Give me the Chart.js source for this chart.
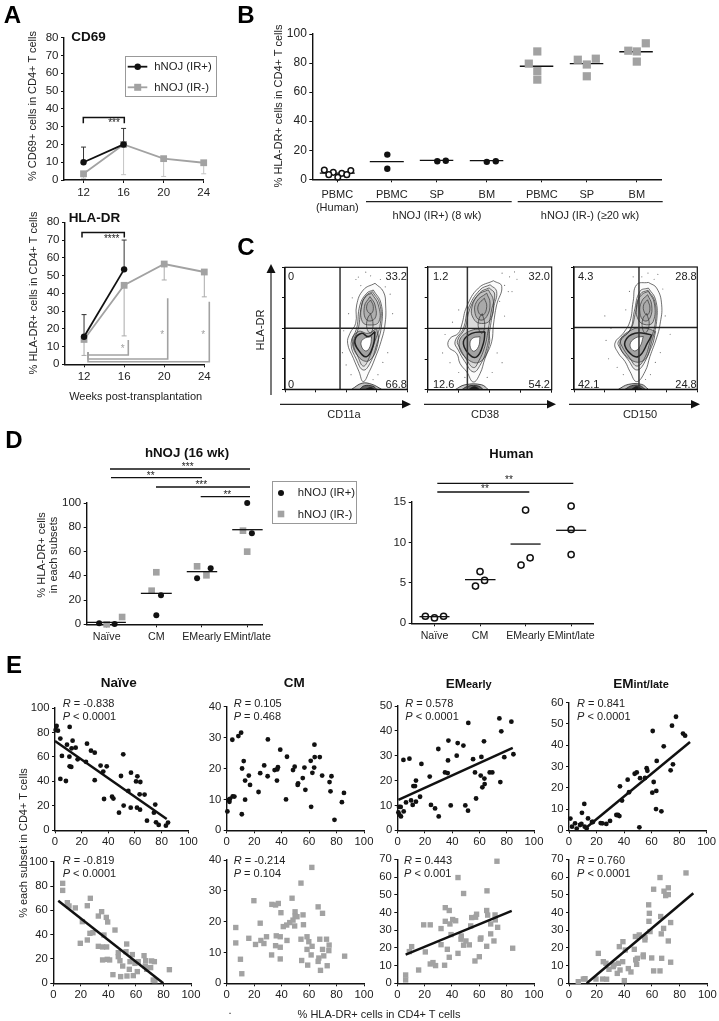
<!DOCTYPE html>
<html lang="en">
<head>
<meta charset="UTF-8">
<title>HLA-DR expression on CD4+ T cells</title>
<script src="https://cdn.jsdelivr.net/npm/chart.js"></script>
<style>
    html, body { margin: 0; padding: 0; background: #fff; }
    #page { position: relative; width: 719px; height: 1021px; overflow: hidden; font-family: "Liberation Sans", Arial, sans-serif; color: #222; filter: blur(0.3px); }
    #page canvas { position: absolute; }
    #page svg { position: absolute; left: 0; top: 0; pointer-events: none; }
    .t { position: absolute; white-space: nowrap; line-height: 1; }
    .box { position: absolute; box-sizing: border-box; border: 1px solid #999; background: #fff; }
</style>
</head>
<body>
<div id="page"></div>
<script>
// ---- panel A
const aWeeks = [12, 16, 20, 24];
const aTicks = [0, 10, 20, 30, 40, 50, 60, 70, 80];
const cd69Plus = [10, 20];
const cd69Minus = [3.5, 20, 12, 9.7];
const cd69PlusUpper = [18.5, 29];
const cd69MinusLower = [1, 3, 2, 3.5];
const hlaPlus = [15.5, 53.5];
const hlaMinus = [14, 44.5, 56.5, 52];
const hlaPlusUpper = [28, 70];
const hlaMinusLower = [5, 16, 47.5, 38];

// ---- panel B
const bTicks = [0, 20, 40, 60, 80, 100];
const bSites = [0, 1.09, 1.99, 2.99, 4.09, 4.99, 5.99];
const bSiteLabels = [['PBMC', '(Human)'], 'PBMC', 'SP', 'BM', 'PBMC', 'SP', 'BM'];
const bHuman = [[-0.26, 6.4], [-0.08, 4.8], [0.09, 4.1], [0.27, 6], [-0.17, 3.2], [0.19, 3.2], [0.01, 1.4]];
const bIrPlus = [[1, 17], [1, 7.3], [2, 12.4], [2.17, 12.8], [2.99, 12], [3.17, 12.4]];
const bIrMinus = [[4, 88], [3.83, 79.6], [4, 74.5], [4, 68.6], [4.81, 82.3], [5.17, 83], [4.99, 79], [4.99, 70.9], [5.82, 88.5], [5.99, 88], [6.17, 93.6], [5.99, 81]];
const bMedians = [4.3, 12.2, 13, 12.8, 77.8, 79.6, 87.8];
const bMedianFrom = [-0.35, 0.65, 1.65, 2.65, 3.65, 4.65, 5.64];
const bMedianTo = [0.35, 1.33, 2.32, 3.32, 4.32, 5.32, 6.31];

// ---- panel C, contours
const cTicks = [0, 25, 50, 75, 100];
const c1Gate = [45, 50];
const c2Gate = [32, 50];
const c3Gate = [52.7, 50.5];
const c1Outer = [[73.6, 86.9], [80.4, 80.1], [82.3, 69.1], [81.7, 52.7], [78.5, 39.1], [73.6, 25.4], [68.9, 14.5], [64, 6.3], [60.5, 14.5], [55.9, 25.4], [51.2, 37.7], [53.1, 45.9], [57.8, 54.1], [58.6, 69.1], [64, 81.4]];
const c1Mid = [[72.2, 81.4], [78.5, 70.5], [79, 52.7], [74.9, 36.3], [69.5, 21.3], [64, 15.8], [58.6, 24], [54, 37.7], [58.6, 50], [61.3, 69.1], [66.8, 78.7]];
const c1Ring = [[71.5, 80], [77.5, 70], [78, 54], [73, 38], [68, 24], [64, 19], [60, 26], [56, 38], [60, 50], [62.5, 68], [66.5, 77]];
const c1Up1 = [[70.8, 78.7], [76.3, 69.1], [76.8, 55.5], [69.5, 52.7], [63.2, 55.5], [62.7, 69.1], [66, 76]];
const c1Up2 = [[69.5, 76], [73.6, 69.1], [73.6, 58.2], [66.8, 56.8], [64.9, 67.8]];
const c1Up3 = [[70, 73.2], [72.2, 67.8], [70.8, 62.3], [67.6, 63.7], [67, 69.1]];
const c1Neck = [[70, 62], [72, 53], [70, 46], [67, 50], [67.5, 58]];
const c1Low1 = [[73.6, 47.3], [72.2, 36.3], [66.8, 26.8], [60, 32.2], [57.2, 40.4], [62.7, 45.9], [68.1, 43.2]];
const c1Low2 = [[74.9, 50], [76.3, 39.1], [69.5, 24], [61.3, 25.4], [55, 39.1], [60, 47.3], [68.1, 45.9]];
const c1Hole = [[70.8, 43.2], [69.5, 35], [66, 31.4], [62.2, 36.3], [64, 41.2]];
const c1Base = [[[54.5, 0], [63, 5], [71, 4.1], [79, 0]], [[61, 0], [65, 3], [72, 2.5], [75, 0]], [[66, 0], [70, 1.5], [73, 0]]];
const c1Dots = [[58, 90], [62, 85], [70, 93], [78, 90], [82, 84], [86, 78], [55, 75], [52, 62], [88, 62], [85, 50], [48, 48], [47, 30], [84, 30], [80, 22], [50, 20], [54, 12], [76, 12], [72, 8], [60, 92], [66, 96]];
const c2Outer = [[53, 88.8], [59.7, 84.2], [55.6, 69.1], [53, 52.7], [51.6, 39.1], [46.2, 25.4], [42.2, 13.1], [36.8, 6.3], [31.5, 14.5], [26.1, 21.3], [23.4, 29.5], [16.7, 35], [18, 41.8], [24.7, 45.9], [27.4, 52.7], [31.5, 67.8], [40.9, 82.8]];
const c2Mid = [[50.3, 85.5], [55.6, 80.1], [53, 66.4], [50.3, 50], [47.6, 33.6], [42.2, 19.9], [36.8, 14.5], [30.1, 22.7], [24.7, 32.2], [22, 39.1], [28.8, 50], [32.8, 66.4], [42.2, 81.4]];
const c2Ring = [[49.5, 83], [54, 78], [51.5, 65], [49, 50], [46, 35], [41, 23], [37, 18], [31, 25], [26, 34], [24, 40], [30, 50], [34, 66], [42, 79]];
const c2Up1 = [[48.9, 81.4], [53, 72.2], [50.3, 56.8], [42.2, 54.1], [36.8, 58.2], [35.5, 66.4], [40.9, 77.3]];
const c2Up2 = [[47.6, 78.7], [50.3, 70.5], [47.6, 59.6], [42.2, 56.8], [38.2, 62.3], [39.5, 71.9]];
const c2Up3 = [[45.7, 74.6], [47.6, 67.8], [44.9, 60.9], [41.4, 62.3], [40.9, 69.1]];
const c2Neck = [[44, 62], [46, 53], [44, 46], [41, 50], [41.5, 58]];
const c2Low1 = [[46.2, 47.3], [44.9, 37.7], [39.5, 26.8], [32.8, 29.5], [28.8, 39.1], [35.5, 45.9]];
const c2Low2 = [[49, 50], [49.5, 36.3], [42.2, 22.7], [31.5, 25.4], [25.3, 37.7], [32.8, 47.3]];
const c2Hole = [[42.2, 43.2], [40.9, 35], [36.8, 31.4], [34.1, 36.3], [36, 41.8]];
const c2Base = [[[22, 0], [30, 4], [43.5, 4], [49, 0]], [[27.4, 0], [32.8, 3], [40.9, 3], [44.9, 0]], [[32.8, 0], [37.6, 2.5], [42.2, 0]]];
const c2Dots = [[60, 95], [66, 92], [72, 90], [62, 85], [68, 80], [58, 72], [62, 60], [25, 65], [20, 55], [14, 45], [12, 30], [18, 22], [25, 14], [56, 30], [60, 22], [52, 14], [48, 10], [30, 10], [70, 96], [65, 80]];
const c3Outer = [[60.3, 87.4], [67, 82.8], [71.1, 69.1], [69.7, 52.7], [67, 42], [61.6, 26.8], [57.6, 14.5], [50.8, 6.3], [45.4, 14.5], [41.4, 22.7], [36, 29.5], [33.2, 37.7], [40, 45.9], [45.4, 55.5], [48, 71.9], [50.8, 85.5]];
const c3Mid = [[60.3, 82.8], [66.2, 73.2], [67, 55.5], [63, 39.1], [57.6, 22.7], [50.8, 15.8], [44, 24], [37.3, 33.6], [36, 39.1], [45.4, 48.6], [48.9, 63.7], [53.5, 80.1]];
const c3Ring = [[60, 81], [65.5, 72], [66, 55], [62, 40], [57, 25], [51, 19], [45, 26], [39, 35], [38, 40], [46, 49], [50, 63], [54, 78]];
const c3Up1 = [[60.3, 80.1], [65.1, 70.5], [64.3, 55.5], [58.9, 52.7], [52.2, 56.8], [50.8, 69.1], [54.9, 77.3]];
const c3Up2 = [[59.7, 77.3], [63, 69.1], [61.6, 58.2], [57, 56], [53.5, 62.3], [54.9, 71.9]];
const c3Up3 = [[59.7, 73.2], [61.6, 66.4], [59.7, 60.9], [57, 63.1], [56.5, 69.1]];
const c3Neck = [[59, 62], [61, 53], [58, 46], [55.5, 50], [56, 58]];
const c3Low1 = [[63, 44.5], [60.3, 39.1], [52.2, 26.8], [44, 30.9], [41.4, 39.1], [49.5, 45.9]];
const c3Low2 = [[66.2, 47.3], [63, 35], [54.9, 22.7], [42.7, 26.8], [37.3, 39.1], [46.8, 48.6], [57.6, 50]];
const c3Hole = [[56.2, 43.2], [53.5, 35], [48.9, 31.4], [45.4, 36.3], [49.5, 41.8]];
const c3Base = [[[36, 0], [44, 4], [54.9, 4], [60.3, 0]], [[41.4, 0], [46.8, 3], [53.5, 3], [57.6, 0]], [[46.8, 0], [50.8, 2.2], [55.4, 0]]];
const c3Dots = [[55, 92], [60, 95], [65, 90], [72, 82], [74, 60], [78, 45], [25, 60], [30, 50], [26, 40], [28, 25], [35, 18], [40, 12], [66, 22], [70, 30], [62, 12], [58, 8], [45, 80], [42, 65], [48, 92], [68, 94]];

// ---- panel D
const dSubsets = ['Naïve', 'CM', 'EMearly', 'EMint/late'];
const dMouseTicks = [0, 20, 40, 60, 80, 100];
const dMouseSites = [0, 1.06, 2.03, 3];
const dMousePlus = [[-0.16, 0.8], [0.17, 0.3], [1.06, 7.4], [1.16, 23.9], [1.93, 37.9], [2.22, 46.2], [3, 100], [3.1, 75]];
const dMouseMinus = [[0, 0], [0.33, 6], [1.06, 42.9], [0.96, 27.7], [1.93, 47.8], [2.13, 40.4], [2.91, 77.2], [3, 59.9]];
const dMouseMedians = [1.6, 25.5, 43.4, 78];
const dMouseFrom = [-0.43, 0.73, 1.71, 2.68];
const dMouseTo = [0.41, 1.39, 2.36, 3.33];
const dHumanTicks = [0, 5, 10, 15];
const dHumanSites = [0, 1, 2, 3];
const dHuman = [[-0.2, 0.87], [0, 0.66], [0.2, 0.87], [1, 6.4], [1.1, 5.3], [0.9, 4.6], [2, 14], [2.1, 8.1], [1.9, 7.2], [3, 14.5], [3, 11.6], [3, 8.5]];
const dHumanMedians = [0.82, 5.4, 9.8, 11.5];
const dHumanFrom = [-0.33, 0.67, 1.67, 2.67];
const dHumanTo = [0.33, 1.34, 2.33, 3.33];

// ---- panel E, x is % HLA-DR+ and y is % of the subset
const eXTicks = [0, 20, 40, 60, 80, 100];
const eNaiveTicks = [0, 20, 40, 60, 80, 100];
const eCmTicks = [0, 10, 20, 30, 40];
const eEarlyTicks = [0, 10, 20, 30, 40, 50];
const eLateTicks = [0, 10, 20, 30, 40, 50, 60];
const eCmMinusTicks = [0, 10, 20, 30, 40];
const e70Ticks = [0, 10, 20, 30, 40, 50, 60, 70];
const eNaivePlus = [[1.2, 85.3], [0.5, 82], [2.2, 81.5], [4, 75], [5.2, 60.8], [4, 42], [8.2, 40.3], [11, 84.5], [10.8, 60.2], [11, 52.3], [12.2, 51.8], [13.2, 73.3], [12.5, 67], [15.5, 67.6], [9, 70], [17, 58], [24, 70.8], [23.2, 56], [27, 65.1], [29.8, 63.5], [29.8, 41], [34.2, 52.9], [38.8, 52.3], [36.2, 48], [36.8, 25.6], [42.8, 27.5], [43.8, 25.9], [48, 14.4], [49.5, 44.4], [51.2, 62.1], [51.5, 20.2], [55, 32.2], [56.8, 18.5], [57, 47.1], [60.8, 40], [61.8, 44.1], [64, 39.5], [61.5, 18.5], [63.8, 16.9], [63.5, 29.4], [67.2, 29.2], [69, 7.9], [74.2, 14.4], [75.2, 21], [75.8, 6.5], [77.8, 4.4], [83.2, 3.8], [84.8, 6.3]];
const eNaivePlusFit = [[0, 73], [83.8, 9.3]];
const eCmPlus = [[0.5, 6.1], [1.2, 9.8], [2, 9.2], [2.4, 10.2], [4.1, 29.3], [4.4, 11], [5.6, 10.9], [8.5, 30.5], [10.5, 31.6], [11, 5.2], [11.2, 20], [12.4, 22.4], [13.4, 16.1], [13.4, 9.9], [16.1, 17.7], [17, 14.7], [23.2, 12.4], [24.4, 18.5], [27.3, 21], [29.8, 17.5], [30, 29.4], [34.9, 19.5], [36.8, 19.7], [36.6, 16.1], [37.3, 20.4], [39, 26.1], [43.2, 10], [43.9, 23.8], [48.3, 19.5], [49.5, 20.6], [51.7, 14.7], [52, 15.2], [55.4, 16.9], [57.3, 13.1], [56.6, 20.3], [61.2, 22.5], [61.5, 7.6], [62.4, 18.6], [63.7, 20.3], [63.9, 27.7], [64.1, 23.7], [67.8, 23.7], [69.5, 17.7], [74.9, 15.6], [75.6, 12.6], [76.3, 17.5], [78.5, 3.4], [83.9, 9.1], [85.4, 12.1]];
const eEarlyPlus = [[0.5, 7.2], [1.2, 6.3], [2.4, 5.6], [1, 9.4], [2.2, 9.4], [4.4, 7.6], [4.2, 28.3], [6.1, 11.2], [8.6, 28.8], [9.8, 12], [11, 10.2], [11.5, 17.8], [12.7, 17.8], [13.4, 20], [13.4, 11.5], [16.4, 13.5], [17.4, 26.7], [23.5, 21.6], [24.4, 10.2], [27.4, 8.8], [30.1, 5.6], [29.8, 32.7], [34.7, 23.3], [36.7, 23], [36.9, 28.1], [38.9, 10], [37.2, 36.1], [43.3, 30], [44, 35.1], [48.2, 34.1], [49.6, 10], [51.6, 7.9], [51.8, 43.2], [55.3, 28.6], [56.7, 23.3], [57.5, 12.8], [61.4, 29.5], [60.9, 22], [62.1, 17.3], [63.8, 18.6], [63.6, 20.8], [63.3, 35.8], [67.5, 23.3], [69.4, 23.3], [75.3, 19.4], [74.6, 45], [76, 39.8], [78.2, 29.4], [83.4, 43.7], [84.9, 30.6]];
const eEarlyPlusFit = [[0.5, 12.2], [84.4, 33.2]];
const eLatePlus = [[1, 5.5], [2.2, 1.7], [4.4, 3.3], [5.6, 0.8], [8, 2.5], [9, 3], [9.4, 8.2], [11.1, 12.4], [11.4, 1.7], [12.8, 0.9], [13.8, 5.6], [16.7, 3.9], [17.4, 3.9], [23, 3.4], [24.2, 3.3], [27.1, 3], [29.8, 4.4], [34.4, 7.2], [35.6, 7.2], [36.6, 6.7], [37, 20.7], [38.5, 14], [42.6, 23.8], [43.6, 17.9], [47.7, 26.6], [49.2, 27.2], [51.6, 24.5], [55.2, 24.6], [56.4, 29.2], [56.9, 28], [51.1, 1.4], [60.8, 46.7], [61.5, 22.7], [60.5, 17.7], [63.4, 18.5], [63.2, 10], [63.7, 32.6], [67.1, 8.9], [68.8, 39.5], [73.8, 28.2], [74.8, 49.2], [75.5, 31], [77.7, 53.4], [82.8, 45.5], [84.3, 44.5]];
const eLatePlusFit = [[12, 1], [87.9, 41.5]];
const eNaiveMinus = [[6.8, 82.2], [6.8, 76.4], [10.2, 66.3], [11.4, 63.6], [16, 62], [19.6, 32.9], [21.1, 50.7], [24.7, 35.6], [24.7, 63.8], [26.9, 69.9], [26.6, 41.1], [28.8, 41.6], [32.7, 55.3], [35.1, 58.9], [32.7, 30.4], [35.8, 29.9], [38.7, 29.9], [36.8, 39.7], [38.5, 54.2], [39.5, 50.4], [35.8, 19.2], [39.2, 19.7], [40.9, 19.2], [44.8, 43.8], [43.3, 7.1], [47.2, 25.2], [47.2, 21.9], [48.4, 18.6], [50.4, 14.2], [48.9, 5.5], [53.5, 6], [53.3, 32.3], [52.8, 26], [57.4, 23.6], [55.7, 17.8], [55.2, 11.5], [59.3, 16.4], [58.1, 6.3], [61, 9.6], [61.7, 17.8], [65.9, 22.7], [67.1, 18.6], [66.8, 14.2], [67.8, 11.5], [71.4, 18.4], [73.4, 17.8], [70.7, 12.9], [72.6, 2.7], [73.8, 2.2], [84.3, 11.2]];
const eNaiveMinusFit = [[3.6, 67.9], [79.9, 0]];
const eCmMinus = [[6.6, 18.1], [6.6, 13.1], [10, 7.8], [11, 3.1], [16.1, 14.6], [19.8, 26.8], [21, 12.6], [24.4, 19.5], [24.9, 13.9], [27.1, 12.9], [29, 15.1], [32.9, 25.6], [35.6, 25.4], [37.6, 25.9], [36.1, 15.4], [39, 15.1], [32.7, 9.2], [35.6, 12.2], [39, 11.7], [39.5, 22.9], [39, 7.9], [41.2, 18.4], [43.7, 18.9], [43.9, 13.9], [45.9, 19.7], [47.6, 27.6], [48.3, 20.5], [49.8, 23.2], [49.8, 21.8], [49.5, 18.6], [51.2, 21.6], [54.1, 14.3], [55.6, 22.2], [55.9, 19], [54.6, 7.4], [59, 5.9], [58.5, 15.1], [59.8, 13.5], [58.5, 11], [61.5, 9.2], [62.2, 12], [62, 37.6], [54.1, 32.5], [66.6, 24.8], [69.8, 22.7], [67.1, 8.2], [67.8, 14.3], [66.6, 7.1], [68.3, 4.2], [69.8, 11], [70.7, 8.9], [72.7, 14.3], [73.2, 5.7], [74.6, 12.4], [74.4, 10.6], [85.9, 8.8]];
const eEarlyMinus = [[6.1, 4.7], [6.1, 1.9], [8.8, 17.9], [10.5, 20.7], [15.6, 7.5], [19.3, 33], [20.5, 17.7], [24.1, 33], [24.1, 10.9], [26.1, 11.7], [28, 10], [32, 30.9], [32, 21.8], [34.6, 10.2], [35.1, 42.7], [35.1, 35], [38, 41.1], [38.5, 33.5], [36.6, 19.2], [38, 14.7], [40.5, 36], [39.3, 27.5], [42.7, 35.3], [44.4, 59.7], [44.4, 16.9], [46.8, 26.7], [46.6, 24.9], [48.5, 50.7], [48.5, 21.5], [50.2, 23.9], [52.7, 21.7], [53.7, 32.4], [54.4, 37.1], [56.8, 12.6], [57.3, 37.3], [58, 39], [60, 15], [60.7, 24.9], [61.2, 25.6], [65.6, 52.2], [65.4, 41.1], [66.1, 38.5], [65.4, 20.9], [68.3, 33.5], [68.3, 27.9], [70.7, 23.9], [71.5, 38.6], [71.7, 35.8], [72.9, 68.9], [73.4, 31.6], [84.4, 19.8]];
const eEarlyMinusFit = [[6.1, 16.2], [83.7, 40.9]];
const eLateMinus = [[6.7, 0.9], [10.4, 2.4], [11.6, 2.6], [19.5, 2.4], [21.2, 16.9], [24.8, 12.2], [24.3, 2.4], [27.2, 2.3], [26.7, 11.3], [28.9, 7.9], [32, 9.4], [32.5, 10.4], [34.9, 5.6], [36.4, 20.7], [35.7, 11.3], [36.9, 7.5], [38.8, 12.2], [39, 23.5], [40, 1.5], [40.7, 18.8], [42.9, 8.3], [44.8, 6.4], [47.2, 19.2], [48, 26.4], [48.2, 13.2], [49.4, 14.1], [48.9, 10.7], [50.8, 27.3], [53.7, 16], [53.7, 15], [54.9, 26], [54.9, 24.5], [57.6, 44.3], [58.1, 39.5], [57.8, 35], [58.6, 29.2], [59.8, 14.3], [61.2, 53.1], [61.2, 7], [65.8, 7], [65.8, 59.7], [66.3, 37.7], [66.7, 27.9], [67, 14.1], [68.4, 31], [68.7, 52], [69.9, 49.5], [71.8, 50.1], [71.8, 53.9], [71.8, 23.9], [73.5, 34.3], [73.5, 11.9], [84.6, 62.3]];
const eLateMinusFit = [[12.8, 0], [89.9, 50.8]];

const BLACK = '#111';
const GREY = '#a2a2a2';
const page = document.getElementById('page');
Chart.defaults.font.family = '"Liberation Sans", Arial, sans-serif';
Chart.defaults.color = '#222';

// whiskers with caps, drawn through the chart's scales
const whiskerPlugin = {
    id: 'whiskers',
    beforeDatasetsDraw(chart, args, opts) {
        const { ctx, scales: { x, y } } = chart;
        (opts.items || []).forEach(w => {
            const px = x.getPixelForValue(w.x), a = y.getPixelForValue(w.from), b = y.getPixelForValue(w.to);
            ctx.save();
            ctx.strokeStyle = w.color;
            ctx.lineWidth = 1;
            ctx.beginPath();
            ctx.moveTo(px, a); ctx.lineTo(px, b);
            ctx.moveTo(px - 2.5, b); ctx.lineTo(px + 2.5, b);
            ctx.stroke();
            ctx.restore();
        });
    }
};
// black box round the flow plots
const framePlugin = {
    id: 'frame',
    afterDatasetsDraw(chart, args, opts) {
        if (!opts.on) return;
        const { ctx, chartArea: c } = chart;
        ctx.save();
        ctx.strokeStyle = BLACK;
        ctx.lineWidth = 1.2;
        ctx.strokeRect(c.left, c.top, c.right - c.left, c.bottom - c.top);
        ctx.restore();
    }
};
Chart.register(whiskerPlugin, framePlugin);

const toXY = pts => pts.map(p => ({ x: p[0], y: p[1] }));
const dots = (pts, o) => ({ data: toXY(pts), showLine: false, clip: false, borderWidth: 0, pointBorderWidth: 0, ...o });
const circles = (pts, r) => dots(pts, { pointStyle: 'circle', pointRadius: r, pointBackgroundColor: BLACK, pointBorderColor: BLACK });
const squares = (pts, r) => dots(pts, { pointStyle: 'rect', pointRadius: r, pointBackgroundColor: GREY, pointBorderColor: GREY });
const rings = (pts, r) => dots(pts, { pointStyle: 'circle', pointRadius: r, pointBackgroundColor: '#fff', pointBorderColor: BLACK, pointBorderWidth: 1.5 });
const line = (pts, color, width) => ({ data: toXY(pts), showLine: true, clip: false, pointRadius: 0, borderColor: color, borderWidth: width, tension: 0 });
const medians = (vals, from, to) => vals.map((v, i) => line([[from[i], v], [to[i], v]], BLACK, 1.3));

// a chart whose plot area lands on the given page pixels
function plot(box, xr, yr, datasets, o = {}) {
    const ml = 42, mb = 34, mt = 10, mr = 12;
    const left = Math.floor(box.x0 - ml), top = Math.floor(box.yTop - mt);
    const width = Math.ceil(box.x1 - left + mr), height = Math.ceil(box.y0 - top + mb);
    const cv = document.createElement('canvas');
    cv.width = width; cv.height = height;
    cv.style.left = left + 'px'; cv.style.top = top + 'px';
    page.appendChild(cv);
    const size = o.size || 11.3;
    const axisWidth = o.axisWidth || 1.4;
    const common = vals => ({
        type: 'linear',
        afterBuildTicks: s => { s.ticks = vals.map(v => ({ value: v })); },
        border: { color: BLACK, width: axisWidth },
        grid: { drawOnChartArea: false, drawTicks: true, tickLength: 3, tickColor: BLACK, lineWidth: 1 }
    });
    return new Chart(cv, {
        type: 'scatter',
        data: { datasets },
        options: {
            responsive: false, animation: false, devicePixelRatio: 1,
            layout: { autoPadding: false, padding: { left: 0, top: box.yTop - top, right: left + width - box.x1, bottom: 0 } },
            plugins: { legend: { display: false }, tooltip: { enabled: false }, whiskers: { items: o.whiskers || [] }, frame: { on: !!o.frame } },
            scales: {
                x: {
                    ...common(xr.ticks), min: xr.min, max: xr.max,
                    afterFit: s => { s.height = top + height - box.y0; },
                    ticks: {
                        display: xr.labels !== null, autoSkip: false, maxRotation: 0, minRotation: 0, padding: o.xPad === undefined ? 2 : o.xPad,
                        font: { size: o.xSize || size }, color: '#222',
                        callback: (v, i) => xr.labels ? xr.labels[i] : String(v)
                    }
                },
                y: {
                    ...common(yr.ticks), min: yr.min, max: yr.max,
                    afterFit: s => { s.width = box.x0 - left; },
                    ticks: { display: yr.labels !== null, autoSkip: false, padding: 2.5, font: { size: o.ySize || size }, color: '#222', callback: v => String(v) }
                }
            }
        }
    });
}

// real text at a page position, centred on (x, y) unless anchored
function txt(html, x, y, o = {}) {
    const d = document.createElement('div');
    d.className = 't';
    d.innerHTML = html;
    d.style.left = x + 'px';
    d.style.top = y + 'px';
    d.style.fontSize = (o.size || 11) + 'px';
    if (o.bold) d.style.fontWeight = 'bold';
    if (o.color) d.style.color = o.color;
    const ax = o.anchor === 'start' ? '0' : o.anchor === 'end' ? '-100%' : '-50%';
    d.style.transform = `translate(${ax},-50%)` + (o.rot ? ` rotate(${o.rot}deg)` : '');
    page.appendChild(d);
}

// ---------- A
const aWhisker = (weeks, from, to, color) => to.map((v, i) => ({ x: weeks[i], from: from[i], to: v, color }));
plot({ x0: 64, x1: 203.7, y0: 180, yTop: 37.7 }, { min: 10.05, max: 24, ticks: aWeeks }, { min: 0, max: 80, ticks: aTicks }, [
    { ...line(aWeeks.slice(0, 2).map((w, i) => [w, cd69Plus[i]]), BLACK, 1.8), pointRadius: 3.2, pointBackgroundColor: BLACK, pointBorderWidth: 0 },
    { ...line(aWeeks.map((w, i) => [w, cd69Minus[i]]), GREY, 1.8), pointStyle: 'rect', pointRadius: 4.8, pointBackgroundColor: GREY, pointBorderWidth: 0 }
], { xPad: 3, size: 11.5, whiskers: [...aWhisker(aWeeks, cd69Plus, cd69PlusUpper, '#333'), ...aWhisker(aWeeks, cd69Minus, cd69MinusLower, '#c4c4c4')] });

plot({ x0: 65, x1: 204.3, y0: 364.3, yTop: 222.3 }, { min: 10.1, max: 24, ticks: aWeeks }, { min: 0, max: 80, ticks: aTicks }, [
    { ...line(aWeeks.slice(0, 2).map((w, i) => [w, hlaPlus[i]]), BLACK, 1.8), pointRadius: 3.2, pointBackgroundColor: BLACK, pointBorderWidth: 0 },
    { ...line(aWeeks.map((w, i) => [w, hlaMinus[i]]), GREY, 1.8), pointStyle: 'rect', pointRadius: 4.8, pointBackgroundColor: GREY, pointBorderWidth: 0 }
], { xPad: 3, size: 11.5, whiskers: [...aWhisker(aWeeks, hlaPlus, hlaPlusUpper, '#333'), ...aWhisker(aWeeks, hlaMinus, hlaMinusLower, '#aaa')] });

// ---------- B
plot({ x0: 312.3, x1: 661.7, y0: 179.3, yTop: 34 }, { min: -0.5, max: 6.488, ticks: bSites, labels: bSiteLabels }, { min: 0, max: 100, ticks: bTicks }, [
    rings(bHuman, 2.8), circles(bIrPlus, 3.2), squares(bIrMinus, 5.8),
    ...medians(bMedians, bMedianFrom, bMedianTo)
], { xPad: 6, xSize: 11, ySize: 12 });

// ---------- C
function flow(box, gate, outer, mid, ring, up1, up2, up3, neck, low1, low2, hole, base, sparse) {
    const contour = (pts, alpha, w, c) => ({
        data: toXY([...pts, pts[0]]), showLine: true, tension: 0.45, pointRadius: 0,
        borderColor: c || '#333', borderWidth: w || 0.7,
        fill: 'shape', backgroundColor: `rgba(40,40,40,${alpha})`
    });
    const cap = (pts, alpha) => ({ data: toXY(pts), showLine: true, tension: 0.4, pointRadius: 0, borderColor: '#222', borderWidth: 0.8, fill: 'origin', backgroundColor: `rgba(20,20,20,${alpha})` });
    const sets = [
        line([[gate[0], 0], [gate[0], 100]], '#333', 1.5),
        line([[0, gate[1]], [100, gate[1]]], '#222', 1.4),
        contour(hole, 0, 0.7),
        ...base.map((b, i) => cap(b, 0.25 + i * 0.3)),
        contour(neck, 0.04),
        contour(up3, 0.03), contour(up2, 0.12), contour(up1, 0.14),
        contour(low1, 0.12, 1.5, '#222'), contour(low2, 0.22),
        contour(ring, 0.08), contour(mid, 0.08), contour(outer, 0.02),
        { data: toXY(sparse), showLine: false, pointRadius: 0.6, pointBackgroundColor: '#777', pointBorderWidth: 0 }
    ];
    sets[2].backgroundColor = '#fff';
    return plot(box, { min: 0, max: 100, ticks: cTicks, labels: null }, { min: 0, max: 100, ticks: cTicks, labels: null }, sets, { frame: true, axisWidth: 1.2 });
}
flow({ x0: 285, x1: 407.3, y0: 389.3, yTop: 267.3 }, c1Gate, c1Outer, c1Mid, c1Ring, c1Up1, c1Up2, c1Up3, c1Neck, c1Low1, c1Low2, c1Hole, c1Base, c1Dots);
flow({ x0: 427.7, x1: 551.7, y0: 389.7, yTop: 267 }, c2Gate, c2Outer, c2Mid, c2Ring, c2Up1, c2Up2, c2Up3, c2Neck, c2Low1, c2Low2, c2Hole, c2Base, c2Dots);
flow({ x0: 574, x1: 697.3, y0: 389.3, yTop: 267 }, c3Gate, c3Outer, c3Mid, c3Ring, c3Up1, c3Up2, c3Up3, c3Neck, c3Low1, c3Low2, c3Hole, c3Base, c3Dots);

// ---------- D
plot({ x0: 86.7, x1: 263, y0: 624.3, yTop: 503 }, { min: -0.426, max: 3.326, ticks: dMouseSites, labels: dSubsets }, { min: 0, max: 100, ticks: dMouseTicks }, [
    ...medians(dMouseMedians, dMouseFrom, dMouseTo), circles(dMousePlus, 3), squares(dMouseMinus, 4.7)
], { xPad: 3, xSize: 10.7, ySize: 11.5 });
plot({ x0: 411.7, x1: 593, y0: 623.3, yTop: 502 }, { min: -0.5, max: 3.48, ticks: dHumanSites, labels: dSubsets }, { min: 0, max: 15, ticks: dHumanTicks }, [
    ...medians(dHumanMedians, dHumanFrom, dHumanTo), rings(dHuman, 3.1)
], { xPad: 3, xSize: 10.6, ySize: 11.5 });

// ---------- E
const e = (box, yMax, yTicks, mark, fit) => plot(box, { min: 0, max: 100, ticks: eXTicks }, { min: 0, max: yMax, ticks: yTicks },
    fit ? [line(fit, BLACK, 2.5), mark] : [mark], { xPad: 2, size: 11.3 });
e({ x0: 55, x1: 188.3, y0: 830.3, yTop: 708 }, 100, eNaiveTicks, circles(eNaivePlus, 2.4), eNaivePlusFit);
e({ x0: 226.7, x1: 364, y0: 830.3, yTop: 706.7 }, 40, eCmTicks, circles(eCmPlus, 2.4));
e({ x0: 397.7, x1: 534, y0: 830.3, yTop: 706 }, 50, eEarlyTicks, circles(eEarlyPlus, 2.4), eEarlyPlusFit);
e({ x0: 569, x1: 706.7, y0: 830.3, yTop: 702.7 }, 60, eLateTicks, circles(eLatePlus, 2.4), eLatePlusFit);
e({ x0: 53.3, x1: 191, y0: 983.3, yTop: 861.7 }, 100, eNaiveTicks, squares(eNaiveMinus, 3.8), eNaiveMinusFit);
e({ x0: 226.7, x1: 364, y0: 983.3, yTop: 860 }, 40, eCmMinusTicks, squares(eCmMinus, 3.8));
e({ x0: 397.3, x1: 534, y0: 983.3, yTop: 859.3 }, 70, e70Ticks, squares(eEarlyMinus, 3.8), eEarlyMinusFit);
e({ x0: 569, x1: 707.3, y0: 983.3, yTop: 859.3 }, 70, e70Ticks, squares(eLateMinus, 3.8), eLateMinusFit);

// ---------- overlay: brackets, group rules, arrows
const svgLines = [
    // A brackets
    ['83.3,123.3 83.3,117.5 124.3,117.5 124.3,123.3', BLACK, 1.5],
    ['82,237.5 82,232.5 124.3,232.5 124.3,237.5', BLACK, 1.5],
    ['88,352 88,355 128.3,355 128.3,340', GREY, 1.6],
    ['88,352 88,359 167.7,359 167.7,298.3', GREY, 1.6],
    ['88,352 88,361.7 209.3,361.7 209.3,301.7', GREY, 1.6],
    // B groups
    ['366,201.7 511.7,201.7', '#222', 1.2],
    ['517.7,201.7 662.7,201.7', '#222', 1.2],
    // C arrows
    ['271,395 271,272', '#222', 1.2],
    ['280,404.3 403,404.3', '#222', 1.2],
    ['424,404.3 548,404.3', '#222', 1.2],
    ['569,404.3 692,404.3', '#222', 1.2],
    // D significance bars
    ['110,469 250,469', BLACK, 1.3],
    ['111,477.7 202,477.7', BLACK, 1.3],
    ['156,487 250,487', BLACK, 1.3],
    ['200.7,496.7 250,496.7', BLACK, 1.3],
    ['437.3,483.3 573.3,483.3', BLACK, 1.3],
    ['437.3,492 529.3,492', BLACK, 1.3]
];
const svgArrows = ['271,264 266.5,273 275.5,273', '411,404.3 402,400 402,408.6', '556,404.3 547,400 547,408.6', '700,404.3 691,400 691,408.6'];

// legends sit under the overlay
[[124.7, 55.7, 92.6, 41.3], [272.3, 481, 85, 42.7]].forEach(b => {
    const d = document.createElement('div');
    d.className = 'box';
    d.style.cssText = `left:${b[0]}px;top:${b[1]}px;width:${b[2]}px;height:${b[3]}px`;
    page.appendChild(d);
});
const svg = `<svg width="719" height="1021" xmlns="http://www.w3.org/2000/svg">` +
    svgLines.map(l => `<polyline points="${l[0]}" fill="none" stroke="${l[1]}" stroke-width="${l[2]}"/>`).join('') +
    svgArrows.map(a => `<polygon points="${a}" fill="#111"/>`).join('') +
    `<line x1="127.7" y1="66.7" x2="147.3" y2="66.7" stroke="${BLACK}" stroke-width="1.8"/><circle cx="137.7" cy="66.7" r="3.2" fill="${BLACK}"/>` +
    `<line x1="127.7" y1="87.3" x2="147.3" y2="87.3" stroke="${GREY}" stroke-width="1.8"/><rect x="134.2" y="83.8" width="7" height="7" fill="${GREY}"/>` +
    `<circle cx="281" cy="493" r="3" fill="${BLACK}"/><rect x="277.7" y="510.7" width="6.6" height="6.6" fill="${GREY}"/>` +
    `</svg>`;
page.insertAdjacentHTML('beforeend', svg);

// ---------- text
[['A', 12.5, 15], ['B', 246, 15], ['C', 246, 247], ['D', 14, 440], ['E', 14, 665]].forEach(p => txt(p[0], p[1], p[2], { size: 24, bold: true, color: '#000' }));

txt('CD69', 88.5, 37, { size: 13.5, bold: true, color: '#111' });
txt('HLA-DR', 94.5, 218, { size: 13.5, bold: true, color: '#111' });
txt('% CD69+ cells in CD4+ T cells', 32.3, 106, { size: 11, rot: -90 });
txt('% HLA-DR+ cells in CD4+ T cells', 33.3, 293, { size: 11, rot: -90 });
txt('hNOJ (IR+)', 154.3, 66.7, { size: 11.3, anchor: 'start' });
txt('hNOJ (IR-)', 154.3, 88, { size: 11.3, anchor: 'start' });
txt('***', 114, 122.5, { size: 10 });
txt('****', 111.7, 239, { size: 10 });
txt('*', 122.7, 349, { size: 10, color: GREY });
txt('*', 162.3, 334.5, { size: 10, color: GREY });
txt('*', 203.3, 334.5, { size: 10, color: GREY });
txt('Weeks post-transplantation', 135.7, 395.7, { size: 11 });

txt('% HLA-DR+ cells in CD4+ T cells', 278.3, 105.7, { size: 11, rot: -90 });
txt('hNOJ (IR+) (8 wk)', 437, 215, { size: 11 });
txt('hNOJ (IR-) (≥20 wk)', 590, 215, { size: 11 });

txt('HLA-DR', 260, 330.3, { size: 11, rot: -90 });
txt('CD11a', 344, 414.3, { size: 11 });
txt('CD38', 485, 413.7, { size: 11 });
txt('CD150', 640, 414.3, { size: 11 });
const quad = (s, x, y, anchor) => txt(s, x, y, { size: 11, anchor });
quad('0', 288, 276, 'start'); quad('33.2', 407, 276, 'end'); quad('0', 288, 383.5, 'start'); quad('66.8', 407, 383.5, 'end');
quad('1.2', 433, 276, 'start'); quad('32.0', 550, 276, 'end'); quad('12.6', 433, 383.5, 'start'); quad('54.2', 550, 383.5, 'end');
quad('4.3', 578, 276, 'start'); quad('28.8', 696.7, 276, 'end'); quad('42.1', 578, 383.5, 'start'); quad('24.8', 696.7, 383.5, 'end');

txt('hNOJ (16 wk)', 187, 453.3, { size: 13.3, bold: true, color: '#111' });
txt('Human', 511.3, 453, { size: 13, bold: true, color: '#111' });
txt('% HLA-DR+ cells', 40.7, 555, { size: 11, rot: -90 });
txt('in each subsets', 53.3, 555, { size: 11, rot: -90 });
txt('hNOJ (IR+)', 297.7, 493, { size: 11.3, anchor: 'start' });
txt('hNOJ (IR-)', 297.7, 514.5, { size: 11.3, anchor: 'start' });
const starMarks = ['***', '**', '***', '**', '**', '**'];
const starX = [187.7, 150.7, 201.3, 227.3, 509, 485];
const starY = [467, 475.5, 485, 494.5, 479.5, 489];
starMarks.forEach((s, i) => txt(s, starX[i], starY[i], { size: 10 }));

const sub = (a, b) => `${a}<span style="font-size:11px">${b}</span>`;
txt('Naïve', 118.7, 682.7, { size: 13.5, bold: true, color: '#111' });
txt('CM', 294.3, 682.7, { size: 13.5, bold: true, color: '#111' });
txt(sub('EM', 'early'), 468.7, 683.5, { size: 13.5, bold: true, color: '#111' });
txt(sub('EM', 'int/late'), 641, 683.5, { size: 13.5, bold: true, color: '#111' });
const stat = (r, p, x, y) => {
    txt(`<i>R</i> = ${r}`, x, y, { size: 11, anchor: 'start' });
    txt(`<i>P</i> ${p}`, x, y + 12.7, { size: 11, anchor: 'start' });
};
stat('-0.838', '&lt; 0.0001', 62.7, 703);
stat('0.105', '= 0.468', 233.7, 703);
stat('0.578', '&lt; 0.0001', 405.3, 703);
stat('0.841', '&lt; 0.0001', 577, 703);
stat('-0.819', '&lt; 0.0001', 62.7, 860.3);
stat('-0.214', '= 0.104', 233.7, 860.3);
stat('0.443', '&lt; 0.001', 404, 860.3);
stat('0.760', '&lt; 0.0001', 577, 860.3);
txt('% each subset in CD4+ T cells', 23, 843, { size: 11, rot: -90 });
txt('% HLA-DR+ cells in CD4+ T cells', 379, 1013.7, { size: 11 });
txt('.', 230, 1010, { size: 11 });
</script>
</body>
</html>
